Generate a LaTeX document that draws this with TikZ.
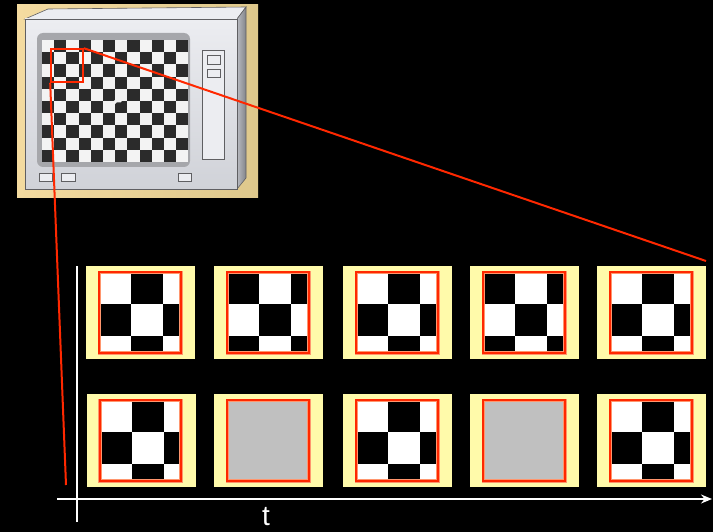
\documentclass[tikz,border=0pt]{standalone}
\usepackage{fontspec}
\setmainfont{Liberation Sans}
\usetikzlibrary{arrows.meta,calc}

\definecolor{cream}{RGB}{255,250,170}
\definecolor{zoomred}{RGB}{255,40,0}
\definecolor{glow}{RGB}{255,150,110}
\definecolor{stillgray}{RGB}{192,192,192}
\definecolor{beigeL}{RGB}{244,219,160}
\definecolor{beigeR}{RGB}{222,200,140}
\definecolor{caseTop}{RGB}{236,237,241}
\definecolor{caseBot}{RGB}{208,210,216}
\definecolor{caseEdge}{RGB}{95,95,98}
\definecolor{sideL}{RGB}{184,186,192}
\definecolor{sideR}{RGB}{130,132,138}
\definecolor{bezel}{RGB}{166,167,171}
\definecolor{cellDark}{RGB}{43,43,43}
\definecolor{cellLight}{RGB}{243,243,243}

\tikzset{
  frame/.style={fill=cream, minimum width=109pt, minimum height=93pt, inner sep=0pt},
  tile/.style={minimum width=81pt, minimum height=80pt, inner sep=0pt},
  tileedge/.style={draw=zoomred, line width=2pt,
    preaction={draw=glow, line width=3.6pt}},
  zoomline/.style={draw=zoomred, line width=2pt},
  axis/.style={draw=white, line width=1.6pt},
  caseline/.style={draw=caseEdge, line width=0.6pt},
  knob/.style={fill=caseTop, draw=caseEdge, line width=0.7pt},
}

\begin{document}
\begin{tikzpicture}[x=1pt,y=-1pt]
\fill[black] (0,0) rectangle (713,532);
\useasboundingbox (0,0) rectangle (713,532);

% ---------- the monitor showing the checkerboard ----------
\shade[left color=beigeL, right color=beigeR] (17,5) rectangle (258,198);
% top face
\fill[caseTop, caseline] (25,19) -- (48,9) -- (246,7) -- (237,19) -- cycle;
% right side face
\shade[left color=sideL, right color=sideR, caseline] (237,19) -- (246,7) -- (246,178) -- (237,189) -- cycle;
% front face
\shade[top color=caseTop, bottom color=caseBot, caseline] (25,19) rectangle (237,189);
% screen bezel
\fill[bezel, rounded corners=6pt] (37,33) rectangle (190,167);
% checkerboard on the screen: 12 x 10 cells
\fill[cellLight] (42,40) rectangle (188.4,162);
\foreach \i in {0,...,11}{
  \foreach \j in {0,...,9}{
    \pgfmathtruncatemacro\odd{mod(\i+\j,2)}
    \ifnum\odd=1
      \fill[cellDark] (42+\i*12.2,40+\j*12.2) rectangle ++(12.2,12.2);
    \fi
  }
}
% small glitch on the screen
\draw[cellLight, line width=3pt] (111,106) -- (116,101) -- (120,101) -- (125,94);
% side panel with two buttons
\draw[knob] (202,50) rectangle (224,159);
\draw[knob] (207,55) rectangle (220,64);
\draw[knob] (207,69) rectangle (220,77);
% buttons under the screen
\draw[knob] (39.5,173.5) rectangle (52.5,181.5);
\draw[knob] (61,173.5) rectangle (75.5,181.5);
\draw[knob] (178,173.5) rectangle (191,181.5);

% zoomed region on the screen
\node[draw=zoomred, line width=1.6pt, minimum width=32pt, minimum height=33pt, inner sep=0pt] (zoomsq) at (67,65.5) {};

% ---------- frames over time ----------
\foreach \n/\cx/\cy/\k in {
  a1/140.5/312.5/0, a2/268.5/312.5/1, a3/397.5/312.5/0, a4/524.5/312.5/1, a5/651.5/312.5/0,
  b1/141/440.5/0,   b2/268.5/440.5/2, b3/397.5/440.5/0, b4/524.5/440.5/2, b5/651.5/440.5/0}{
  \node[frame] (\n) at (\cx,\cy) {};
  \ifnum\k=2
    \node[tile, fill=stillgray] (\n-tile) at ($(\n.center)+(-0.5,0)$) {};
  \else
    \node[tile, fill=white] (\n-tile) at ($(\n.center)+(-0.5,0)$) {};
    \begin{scope}
      \clip (\n-tile.north west) rectangle (\n-tile.south east);
      \foreach \r in {0,1,2}{
        \foreach \c in {0,1,2}{
          \pgfmathtruncatemacro\odd{mod(\r+\c+\k,2)}
          \ifnum\odd=1
            \fill[black] ($(\n-tile.north west)+(\c*32,\r*32)$) rectangle ++(32,32);
          \fi
        }
      }
    \end{scope}
  \fi
  \draw[tileedge] (\n-tile.north west) rectangle (\n-tile.south east);
}

% ---------- lines from the zoomed region ----------
\coordinate (zoomendR) at (706,261);
\coordinate (zoomendL) at (66,485);
\draw[zoomline] (zoomsq.north east) -- (zoomendR);
\draw[zoomline] (zoomsq.south west) -- (zoomendL);

% ---------- axes ----------
\coordinate (xstart) at (57,499);
\coordinate (xend) at (712,499);
\coordinate (ystart) at (77,522);
\coordinate (ytop) at (77,266);
\draw[axis] (ystart) -- (ytop);
\draw[axis, -{Stealth[length=11pt, width=9pt]}] (xstart) -- (xend);
\node[text=white, font=\fontsize{28}{28}\selectfont, anchor=base, inner sep=0pt] (tlabel) at (266,525) {t};
\end{tikzpicture}
\end{document}
